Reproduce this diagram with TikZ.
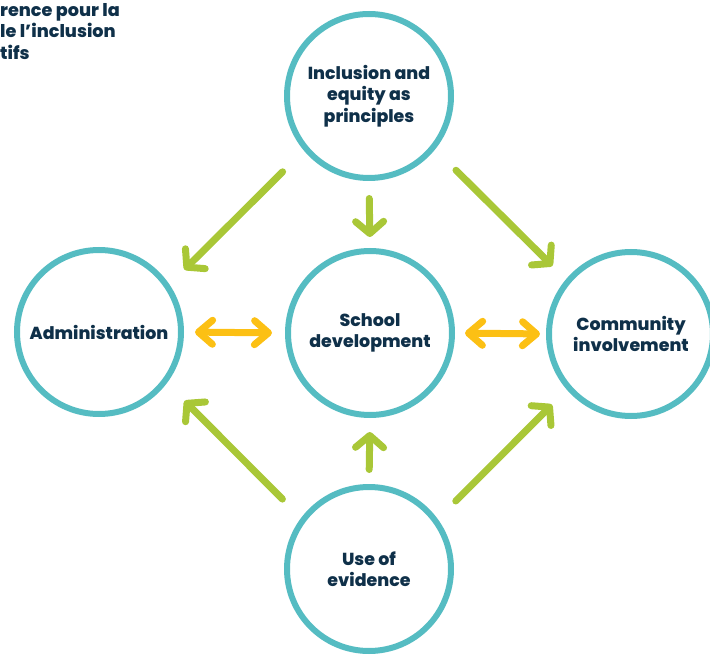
\documentclass[tikz,border=0pt]{standalone}
\usepackage{fontspec}
\setmainfont{Poppins}[BoldFont={Poppins ExtraBold}]
\usetikzlibrary{arrows.meta}

\definecolor{ring}{HTML}{55BCC2}
\definecolor{leaf}{HTML}{A9C737}
\definecolor{sun}{HTML}{FCC014}
\definecolor{ink}{HTML}{0F3049}

\begin{document}
\begin{tikzpicture}[x=1pt, y=-1pt,
	every ring/.style={circle, draw=ring, line width=6pt, minimum size=164pt, inner sep=0pt,
		align=center, text=ink, font=\fontsize{17.4}{21.5}\selectfont\bfseries},
	green arrow/.style={draw=leaf, line width=7pt, line cap=round,
		-{Straight Barb[length=12pt, width=28pt, round]}},
	yellow arrow/.style={draw=sun, line width=7pt, line cap=round,
		{Straight Barb[length=14pt, width=24pt, round]}-{Straight Barb[length=14pt, width=24pt, round]}}]

		\useasboundingbox (0,0) rectangle (710,655);

		% cut-off heading, top left
		\node [anchor=north west, align=left, inner sep=0pt, text=ink,
			font=\fontsize{17.6}{21.5}\selectfont\bfseries] (note) at (0,3)
			{rence pour la\\le l’inclusion\\tifs};

		% circles
		\foreach \n/\x/\y/\l in {incl/369/96/{Inclusion and\\equity as\\principles},
				admin/99/332/Administration,
				dev/370/333/{School\\development},
				comm/631/334/{Community\\involvement},
				evid/369/569/{Use of\\evidence}}
			\node [every ring/.try] (\n) at (\x,\y) {\l};

		% green arrows
		\foreach \a/\b/\s/\e in {incl.220/admin.34/30/21, incl.south/dev.north/17.5/11,
				incl.321/comm.140/29.5/19, evid.143/admin.323/26.5/25,
				evid.north/dev.south/14.5/14, evid.36/comm.221/25.5/21}
			\draw [green arrow, shorten <=\s pt, shorten >=\e pt] (\a) -- (\b);

		% yellow arrows
		\draw [yellow arrow, shorten <=11pt, shorten >=13pt] (admin.east) -- (dev.west);
		\draw [yellow arrow, shorten <=10pt, shorten >=6pt] (dev.east) -- (comm.west);

\end{tikzpicture}
\end{document}
